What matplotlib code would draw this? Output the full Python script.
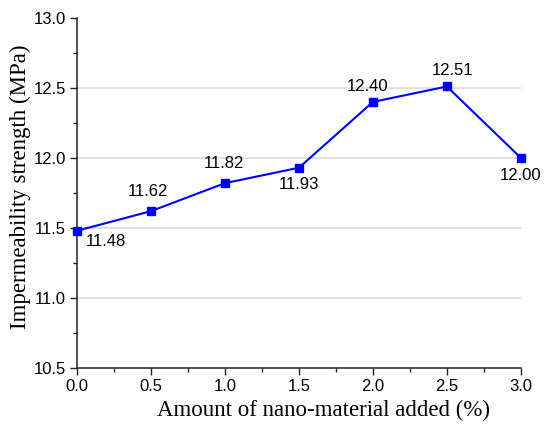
import matplotlib.pyplot as plt

# データ
x = [0.0, 0.5, 1.0, 1.5, 2.0, 2.5, 3.0]
y = [11.48, 11.62, 11.82, 11.93, 12.40, 12.51, 12.00]
labels = ["11.48", "11.62", "11.82", "11.93", "12.40", "12.51", "12.00"]
# ラベル位置 (オフセット, pt)
offsets = [(21, -8), (-2, 14), (-1, 14), (0, -12), (-4, 11), (4, 11.5), (0, -13)]

fig = plt.figure(figsize=(5.46, 4.25), dpi=100)
ax = fig.add_axes([0.141, 0.134, 0.813, 0.824])

ax.plot(x, y, color='#0000ff', lw=1.5, marker='s', ms=6, zorder=3, clip_on=False)

for xi, yi, s, off in zip(x, y, labels, offsets):
    ax.annotate(s, (xi, yi), xytext=off, textcoords='offset points',
                ha='center', va='center', fontsize=12, family='Liberation Sans')

ax.set_xlim(0, 3.0)
ax.set_ylim(10.5, 13.0)
ax.set_xticks([0, 0.5, 1.0, 1.5, 2.0, 2.5, 3.0])
ax.set_yticks([10.5, 11.0, 11.5, 12.0, 12.5, 13.0])
ax.set_xticks([0.25, 0.75, 1.25, 1.75, 2.25, 2.75], minor=True)
ax.set_yticks([10.75, 11.25, 11.75, 12.25, 12.75], minor=True)
ax.set_xticklabels(["0.0", "0.5", "1.0", "1.5", "2.0", "2.5", "3.0"])
ax.set_yticklabels(["10.5", "11.0", "11.5", "12.0", "12.5", "13.0"])
for lab in ax.get_xticklabels() + ax.get_yticklabels():
    lab.set_family('Liberation Sans')
    lab.set_fontsize(12)

for g in [11.0, 11.5, 12.0, 12.5]:
    ax.axhline(g, color='#dcdcdc', lw=1.2, zorder=0)

ax.spines['top'].set_visible(False)
ax.spines['right'].set_visible(False)
ax.spines['left'].set_color('#222222')
ax.spines['bottom'].set_color('#222222')
ax.spines['left'].set_linewidth(1.1)
ax.spines['bottom'].set_linewidth(1.1)
ax.tick_params(which='major', direction='out', length=5, width=1, color='#222222', pad=3)
ax.tick_params(which='minor', direction='out', length=3, width=1, color='#222222')

ax.set_xlabel("Amount of nano-material added (%)", family='Liberation Serif', fontsize=16.5)
ax.set_ylabel("Impermeability strength (MPa)", family='Liberation Serif', fontsize=16.5)
ax.xaxis.set_label_coords(0.555, -0.12)
ax.xaxis.label.set_va('center')
ax.yaxis.set_label_coords(-0.128, 0.517)
ax.yaxis.label.set_va('center')

fig.savefig('out.png', dpi=100)
